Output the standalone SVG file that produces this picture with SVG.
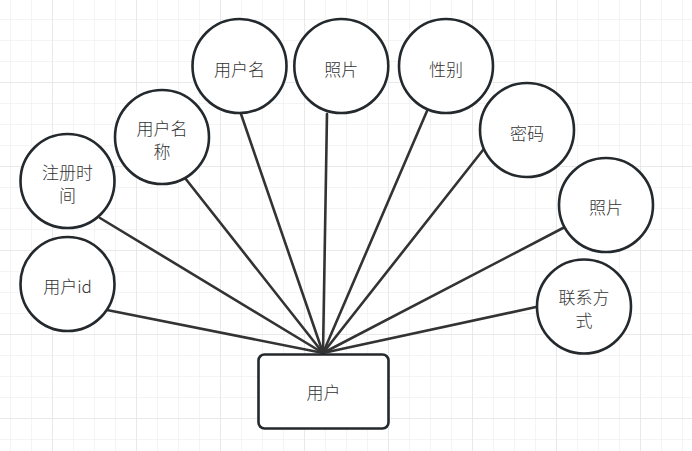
<svg xmlns="http://www.w3.org/2000/svg" width="692" height="451" viewBox="0 0 692 451">
<defs>
<pattern id="minor" width="21" height="21" patternUnits="userSpaceOnUse" x="10" y="19">
<path d="M0 0H21M0 0V21" fill="none" stroke="#f1f1f1" stroke-width="1.5"/>
</pattern>
<pattern id="major" width="84" height="84" patternUnits="userSpaceOnUse" x="52" y="82">
<path d="M0 0H84M0 0V84" fill="none" stroke="#e6e6e6" stroke-width="1.5"/>
</pattern>
</defs>
<style>
.n{fill:#fff;stroke:#24292d;stroke-width:2.6}
.t{font-family:"Noto Sans CJK SC","Liberation Sans",sans-serif;font-size:17px;font-weight:300;fill:#333;text-anchor:middle;dominant-baseline:central}
.e{stroke:#333;stroke-width:2.6;fill:none;stroke-linecap:round}
</style>
<rect width="692" height="451" fill="#fff"/>
<rect width="692" height="451" fill="url(#minor)"/>
<rect width="692" height="451" fill="url(#major)"/>
<g id="edges">
<line class="e" x1="107" y1="310" x2="323" y2="353"/>
<line class="e" x1="100" y1="218" x2="323" y2="353"/>
<line class="e" x1="185" y1="178" x2="323" y2="353"/>
<line class="e" x1="241" y1="114" x2="323" y2="353"/>
<line class="e" x1="327" y1="114" x2="323" y2="353"/>
<line class="e" x1="427" y1="111" x2="323" y2="353"/>
<line class="e" x1="483" y1="150" x2="323" y2="353"/>
<line class="e" x1="563" y1="228" x2="323" y2="353"/>
<line class="e" x1="536" y1="307" x2="323" y2="353"/>
</g>
<g id="user">
<rect class="n" x="258.5" y="354.5" width="130" height="74" rx="6"/>
<text class="t" x="323.5" y="391">用户</text>
</g>
<g id="uid">
<circle class="n" cx="67.5" cy="284" r="47"/>
<text class="t" x="67.5" y="285">用户id</text>
</g>
<g id="regtime">
<circle class="n" cx="67.5" cy="181" r="47"/>
<text class="t" x="67.5" y="171">注册时</text>
<text class="t" x="67.5" y="194">间</text>
</g>
<g id="nickname">
<circle class="n" cx="162" cy="137" r="47"/>
<text class="t" x="162" y="127">用户名</text>
<text class="t" x="162" y="150">称</text>
</g>
<g id="username">
<circle class="n" cx="239.5" cy="66" r="47"/>
<text class="t" x="239.5" y="68">用户名</text>
</g>
<g id="photo1">
<circle class="n" cx="341.3" cy="66" r="47"/>
<text class="t" x="341.3" y="68">照片</text>
</g>
<g id="gender">
<circle class="n" cx="446" cy="66" r="47"/>
<text class="t" x="446" y="68">性别</text>
</g>
<g id="password">
<circle class="n" cx="527" cy="130" r="47"/>
<text class="t" x="527" y="132">密码</text>
</g>
<g id="photo2">
<circle class="n" cx="606" cy="205" r="47"/>
<text class="t" x="606" y="206">照片</text>
</g>
<g id="contact">
<circle class="n" cx="584" cy="306.5" r="47"/>
<text class="t" x="584" y="296">联系方</text>
<text class="t" x="584" y="319">式</text>
</g>
</svg>
